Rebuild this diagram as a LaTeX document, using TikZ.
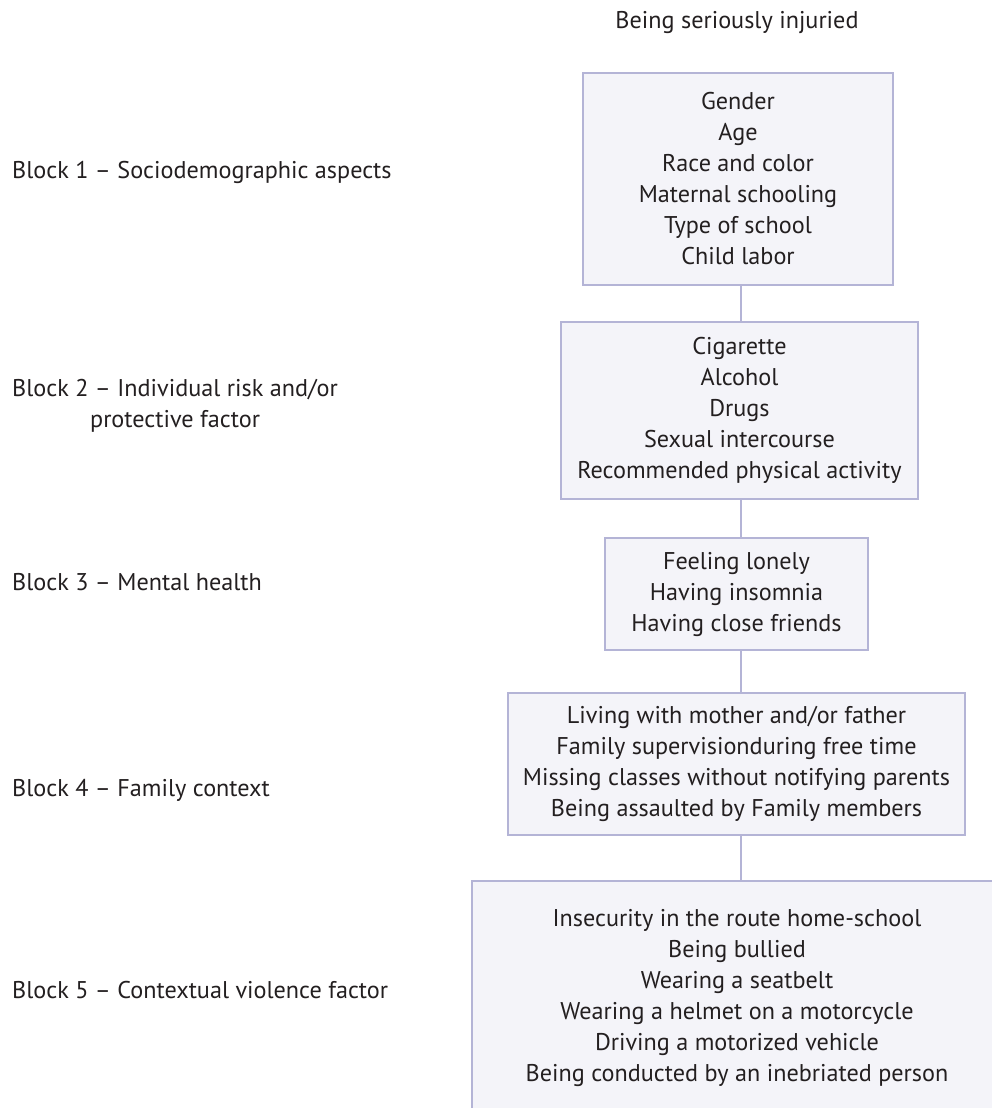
\documentclass[tikz,border=0pt]{standalone}
\usepackage{fontspec}
\setmainfont{PT Sans}
\definecolor{boxline}{RGB}{180,180,214}
\definecolor{boxfill}{RGB}{244,244,249}
\definecolor{txt}{RGB}{35,31,32}
\begin{document}
\begin{tikzpicture}[x=1pt,y=-1pt,
  every node/.style={text=txt, font=\fontsize{24.2}{31}\selectfont},
  blockbox/.style={draw=boxline, fill=boxfill, line width=1.5pt, align=center, inner sep=0pt},
  blocklabel/.style={anchor=west, align=center, inner sep=0pt},
  conn/.style={draw=boxline, line width=1.5pt}]
\useasboundingbox (0,0) rectangle (992,1108);
\fill[white] (0,0) rectangle (992,1108);
\coordinate (cx) at (741,0);
\node (title) at (737,22) {Being seriously injuried};
\node[blockbox, minimum width=310pt, minimum height=212pt] (b1) at (738,179)
  {Gender\\Age\\Race and color\\Maternal schooling\\Type of school\\Child labor};
\node[blockbox, minimum width=357pt, minimum height=177pt] (b2) at (739.5,410.5)
  {Cigarette\\Alcohol\\Drugs\\Sexual intercourse\\Recommended physical activity};
\node[blockbox, minimum width=263pt, minimum height=112pt] (b3) at (736.5,594)
  {Feeling lonely\\Having insomnia\\Having close friends};
\node[blockbox, minimum width=457pt, minimum height=142pt] (b4) at (736.5,764)
  {Living with mother and/or father\\Family supervisionduring free time\\Missing classes without notifying parents\\Being assaulted by Family members};
\node[blockbox, minimum width=530pt, minimum height=233pt] (b5) at (737,997.5)
  {Insecurity in the route home-school\\Being bullied\\Wearing a seatbelt\\Wearing a helmet on a motorcycle\\Driving a motorized vehicle\\Being conducted by an inebriated person};
\draw[conn] (b1.south -| cx) -- (b2.north -| cx);
\draw[conn] (b2.south -| cx) -- (b3.north -| cx);
\draw[conn] (b3.south -| cx) -- (b4.north -| cx);
\draw[conn] (b4.south -| cx) -- (b5.north -| cx);
\node[blocklabel] (l1) at (12,172) {Block 1 -- Sociodemographic aspects};
\node[blocklabel] (l2) at (12,406) {Block 2 -- Individual risk and/or\\protective factor};
\node[blocklabel] (l3) at (12,582) {Block 3 -- Mental health};
\node[blocklabel] (l4) at (12,790) {Block 4 -- Family context};
\node[blocklabel] (l5) at (12,990) {Block 5 -- Contextual violence factor};
\end{tikzpicture}
\end{document}
